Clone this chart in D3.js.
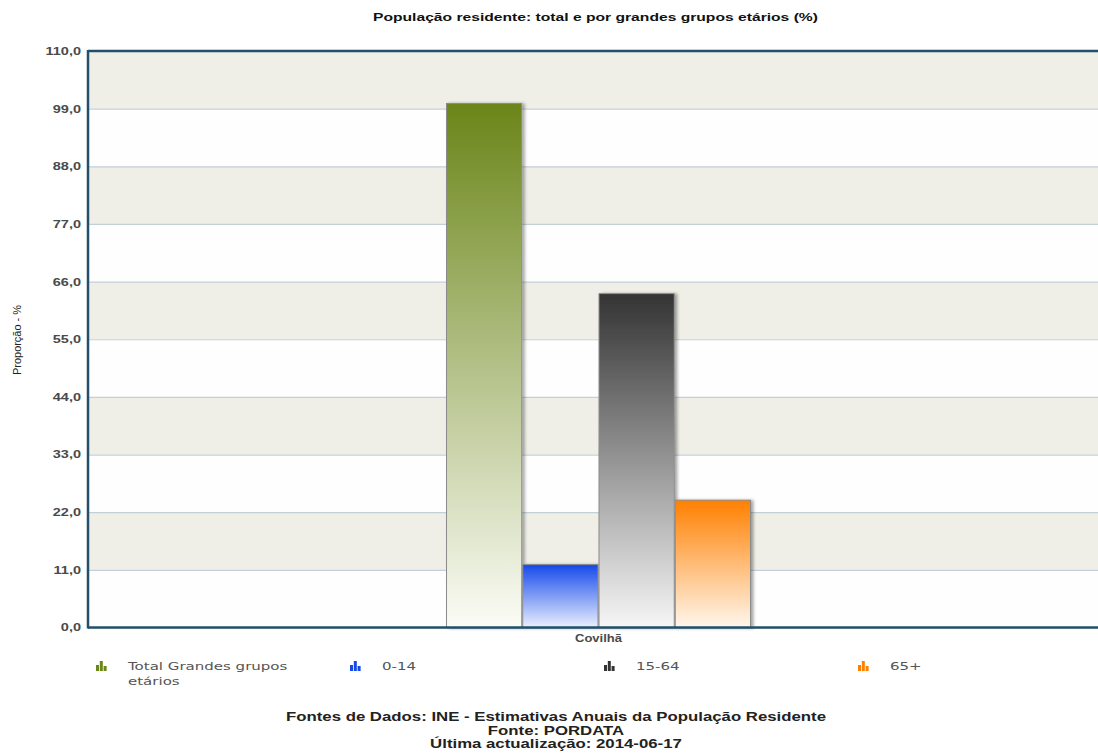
<!DOCTYPE html>
<html><head><meta charset="utf-8">
<script src="https://cdn.jsdelivr.net/npm/d3@7"></script>
<style>html,body{margin:0;padding:0;background:#fff;overflow:hidden}</style>
</head><body><svg id="c" width="1098" height="753"></svg>
<script>
const categories = ["Covilhã"];
const seriesNames = ["Total Grandes grupos etários", "0-14", "15-64", "65+"];
const seriesValues = [100.0, 12.0, 63.7, 24.3];
const seriesColors = ["#6b8519", "#1549ea", "#333333", "#ff8000"];
const seriesLight = ["#fbfcf6", "#eaf0ff", "#f6f6f6", "#fff6ec"];
const tickValues = [0, 11, 22, 33, 44, 55, 66, 77, 88, 99, 110];
const titleText = "População residente: total e por grandes grupos etários (%)";
const yAxisTitle = "Proporção - %";
const footerLines = ["Fontes de Dados: INE - Estimativas Anuais da População Residente", "Fonte: PORDATA", "Última actualização: 2014-06-17"];

const svg = d3.select("#c");
const M = {left: 88, top: 51, right: 1109, bottom: 627.5};

function stretch(sel, sx) {
  sel.each(function () {
    const w = this.getComputedTextLength();
    d3.select(this).attr("textLength", w * sx).attr("lengthAdjust", "spacingAndGlyphs");
  });
}

const locale = d3.formatLocale({decimal: ",", thousands: ".", grouping: [3], currency: ["", "€"]});
const fmt = locale.format(".1f");

const y = d3.scaleLinear().domain([0, 110]).range([M.bottom, M.top]);
const x0 = d3.scaleBand().domain(categories).range([M.left, M.right]).paddingInner(0.54).paddingOuter(0.54);
const x1 = d3.scaleBand().domain(seriesNames).range([0, x0.bandwidth()]).padding(0);

const defs = svg.append("defs");
seriesNames.forEach((s, i) => {
  const g = defs.append("linearGradient").attr("id", "g" + i).attr("x1", 0).attr("y1", 0).attr("x2", 0).attr("y2", 1);
  g.append("stop").attr("offset", "0%").attr("stop-color", seriesColors[i]);
  g.append("stop").attr("offset", "100%").attr("stop-color", seriesLight[i]);
});
const f = defs.append("filter").attr("id", "sh").attr("x", "-10%").attr("y", "-10%").attr("width", "130%").attr("height", "120%");
f.append("feDropShadow").attr("dx", 2.5).attr("dy", 0.5).attr("stdDeviation", 1.5).attr("flood-color", "#000").attr("flood-opacity", 0.35);

// alternating bands
const bands = d3.pairs(tickValues);
svg.append("g").selectAll("rect").data(bands).join("rect")
  .attr("x", M.left).attr("width", M.right - M.left)
  .attr("y", d => y(d[1])).attr("height", d => y(d[0]) - y(d[1]))
  .attr("fill", (d, i) => i % 2 === 1 ? "#efefe7" : "#fefefe");

// gridlines
const grid = svg.append("g").attr("transform", `translate(${M.left},0)`)
  .call(d3.axisLeft(y).tickValues(tickValues).tickSize(-(M.right - M.left)).tickFormat(""));
grid.select(".domain").remove();
grid.selectAll("line").attr("stroke", "#c3d0d8").attr("stroke-width", 1.2);

// bars
const bg = svg.append("g").selectAll("g").data(categories).join("g")
  .attr("transform", d => `translate(${x0(d)},0)`);
bg.selectAll("rect").data(() => seriesNames.map((s, i) => ({s, i, v: seriesValues[i]}))).join("rect")
  .attr("x", d => x1(d.s) + 0.5).attr("width", x1.bandwidth() - 1)
  .attr("y", d => y(d.v)).attr("height", d => y(0) - y(d.v))
  .attr("fill", d => `url(#g${d.i})`).attr("stroke", "#8c8c8c").attr("stroke-width", 1)
  .attr("filter", "url(#sh)");

// frame lines
const frame = svg.append("g").attr("stroke", "#22506a").attr("stroke-width", 2.5).attr("fill", "none");
frame.append("line").attr("x1", M.left).attr("x2", M.right).attr("y1", M.top).attr("y2", M.top);
frame.append("line").attr("x1", M.left).attr("x2", M.right).attr("y1", M.bottom).attr("y2", M.bottom);
frame.append("line").attr("x1", M.left).attr("x2", M.left).attr("y1", M.top - 1).attr("y2", M.bottom + 1);

// y axis labels
const ya = svg.append("g").attr("transform", `translate(${M.left},0)`)
  .call(d3.axisLeft(y).tickValues(tickValues).tickFormat(fmt).tickSize(0).tickPadding(7));
ya.select(".domain").remove();
ya.selectAll("text").attr("font-family", "Liberation Sans, Arial, sans-serif").attr("font-size", 10)
  .attr("fill", "#4a4a4a").attr("font-weight", "bold").attr("dy", "0.34em");
stretch(ya.selectAll("text"), 1.45);

// x axis label
const xa = svg.append("g").attr("transform", `translate(0,${M.bottom})`)
  .call(d3.axisBottom(x0).tickSize(0).tickPadding(7));
xa.select(".domain").remove();
xa.selectAll("text").attr("font-family", "Liberation Sans, Arial, sans-serif").attr("font-size", 10)
  .attr("fill", "#4a4a4a").attr("font-weight", "bold");
stretch(xa.selectAll("text"), 1.3);

// title
const t = svg.append("text").attr("x", 595.5).attr("y", 21).attr("text-anchor", "middle")
  .attr("font-family", "Liberation Sans, Arial, sans-serif").attr("font-size", 10.5).attr("font-weight", "bold")
  .attr("fill", "#111").text(titleText);
t.attr("textLength", 445).attr("lengthAdjust", "spacingAndGlyphs");

// y axis title
svg.append("text").attr("transform", "translate(21,340) rotate(-90)").attr("text-anchor", "middle")
  .attr("font-family", "Liberation Sans, Arial, sans-serif").attr("font-size", 11)
  .attr("fill", "#222").attr("textLength", 70).attr("lengthAdjust", "spacingAndGlyphs").text(yAxisTitle);

// legend
const legendX = [96, 350, 604, 858];
const lg = svg.append("g").selectAll("g").data(seriesNames).join("g")
  .attr("transform", (d, i) => `translate(${legendX[i]},0)`);
const iconBars = [[0, 4, 6], [3.8, 0, 10], [7.6, 5, 5]];
lg.each(function (d, i) {
  const g = d3.select(this);
  g.selectAll("rect.ic").data(iconBars).join("rect").attr("class", "ic")
    .attr("x", b => b[0]).attr("y", b => 661 + b[1]).attr("width", 3).attr("height", b => b[2])
    .attr("fill", seriesColors[i]);
  // wrap text
  const words = d.split(" ");
  const lines = [];
  let cur = "";
  const probe = g.append("text").attr("font-family", "DejaVu Sans, Verdana, sans-serif").attr("font-size", 10);
  words.forEach(w => {
    const test = cur ? cur + " " + w : w;
    probe.text(test);
    if (probe.node().getComputedTextLength() * 1.5 > 190 && cur) { lines.push(cur); cur = w; } else cur = test;
  });
  lines.push(cur);
  probe.remove();
  lines.forEach((ln, k) => {
    const tx = g.append("text").attr("x", 32).attr("y", 670 + k * 15)
      .attr("font-family", "DejaVu Sans, Verdana, sans-serif").attr("font-size", 10)
      .attr("fill", "#555").text(ln);
    stretch(tx, 1.5);
  });
});

// footer
const ft = svg.append("g").selectAll("text").data(footerLines).join("text")
  .attr("x", 556).attr("y", (d, i) => 721 + i * 13.5).attr("text-anchor", "middle")
  .attr("font-family", "Liberation Sans Narrow, Liberation Sans, Arial, sans-serif").attr("font-size", 12)
  .attr("font-weight", "bold").attr("fill", "#222").text(d => d);
{
  const w0 = ft.nodes()[0].getComputedTextLength();
  const k = 540 / w0;
  stretch(ft, k);
}
</script></body></html>
